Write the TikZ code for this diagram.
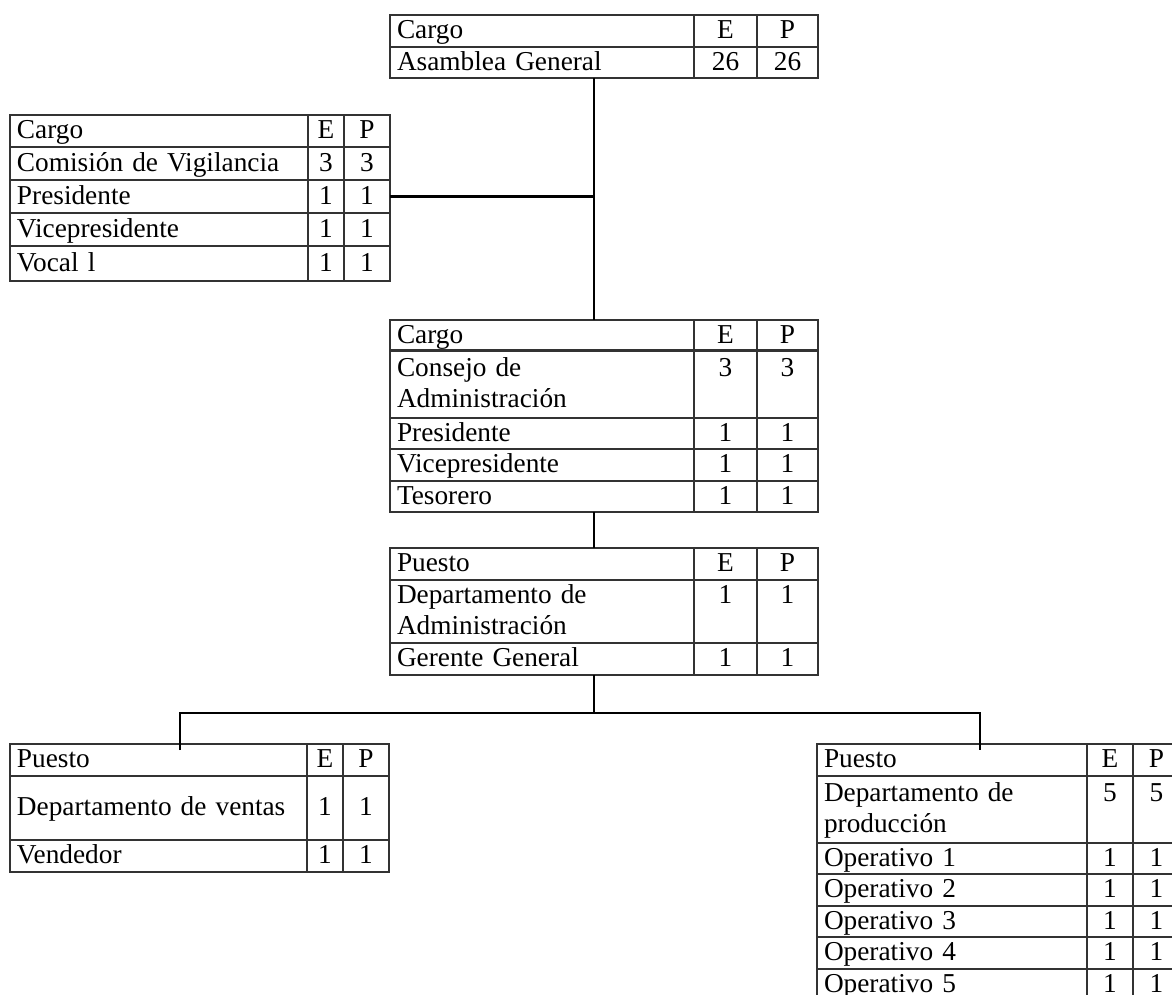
\documentclass[tikz,border=0pt]{standalone}
\usepackage{fontspec}
\setmainfont{Liberation Serif}
\newcommand\cellstrut{\rule[-3.95pt]{0pt}{15.5pt}}
\tikzset{
  cellbase/.style={draw=black!80, line width=0.55pt, rectangle, anchor=north west,
    inner ysep=0pt, outer sep=0pt, font=\fontsize{13.65pt}{15.5pt}\selectfont,
    execute at begin node=\cellstrut, execute at end node=\cellstrut},
  namecell/.style={cellbase, align=left, inner xsep=3.5pt},
  numcell/.style={cellbase, align=center, inner xsep=1pt},
  conn/.style={line width=1.2pt, draw=black}
}
\newcommand\lcell[6]{%
  \pgfmathsetmacro\cw{(#4-#2)*0.5}\pgfmathsetmacro\ch{(#5-#3)*0.5}\pgfmathsetmacro\tw{(#4-#2)*0.5-7}%
  \node[namecell,minimum width=\cw pt,minimum height=\ch pt,text width=\tw pt] (#1) at (#2,#3) {#6};}
\newcommand\ncell[6]{%
  \pgfmathsetmacro\cw{(#4-#2)*0.5}\pgfmathsetmacro\ch{(#5-#3)*0.5}\pgfmathsetmacro\tw{(#4-#2)*0.5-2}%
  \node[numcell,minimum width=\cw pt,minimum height=\ch pt,text width=\tw pt] (#1) at (#2,#3) {#6};}
\newcommand\trow[6]{%
  \lcell{#1}{\ca}{#2}{\cb}{#3}{#4}%
  \ncell{#1e}{\cb}{#2}{\cc}{#3}{#5}%
  \ncell{#1p}{\cc}{#2}{\cd}{#3}{#6}}
\begin{document}
\begin{tikzpicture}[x=0.5pt,y=-0.5pt]
\fill[white] (0,0) rectangle (1172,995);
\useasboundingbox (0,0) rectangle (1172,995);
\clip (0,0) rectangle (1172,995);

% top table
\def\ca{390}\def\cb{694}\def\cc{757}\def\cd{818}
\trow{T-h}{15}{47}{Cargo}{E}{P}
\trow{T-r1}{47}{78}{Asamblea General}{26}{26}

% left table
\def\ca{10}\def\cb{308}\def\cc{344}\def\cd{390}
\trow{L-h}{115}{147}{Cargo}{E}{P}
\trow{L-r1}{147}{180}{Comisión de Vigilancia}{3}{3}
\trow{L-r2}{180}{213}{Presidente}{1}{1}
\trow{L-r3}{213}{246}{Vicepresidente}{1}{1}
\trow{L-r4}{246}{281}{Vocal l}{1}{1}

% middle table
\def\ca{390}\def\cb{694}\def\cc{757}\def\cd{818}
\trow{M-h}{320}{350}{Cargo}{E}{P}
\trow{M-r1}{350}{418}{Consejo de\\Administración}{3\\\mbox{}}{3\\\mbox{}}
\trow{M-r2}{418}{449}{Presidente}{1}{1}
\trow{M-r3}{449}{481}{Vicepresidente}{1}{1}
\trow{M-r4}{481}{512}{Tesorero}{1}{1}

% administration table
\trow{P-h}{548}{580}{Puesto}{E}{P}
\trow{P-r1}{580}{643}{Departamento de\\Administración}{1\\\mbox{}}{1\\\mbox{}}
\trow{P-r2}{643}{675}{Gerente General}{1}{1}

% bottom left table
\def\ca{10}\def\cb{307}\def\cc{343}\def\cd{389}
\trow{BL-h}{744}{776}{Puesto}{E}{P}
\trow{BL-r1}{776}{840}{Departamento de ventas}{1}{1}
\trow{BL-r2}{840}{872}{Vendedor}{1}{1}

% bottom right table
\def\ca{817}\def\cb{1087}\def\cc{1133}\def\cd{1180}
\trow{BR-h}{744}{776}{Puesto}{E}{P}
\trow{BR-r1}{776}{843}{Departamento de\\producción}{5\\\mbox{}}{5\\\mbox{}}
\trow{BR-r2}{843}{874}{Operativo 1}{1}{1}
\trow{BR-r3}{874}{906}{Operativo 2}{1}{1}
\trow{BR-r4}{906}{937}{Operativo 3}{1}{1}
\trow{BR-r5}{937}{969}{Operativo 4}{1}{1}
\trow{BR-r6}{969}{1000}{Operativo 5}{1}{1}

% connectors
\coordinate (trunk) at (594,0);
\coordinate (barL) at (180,713);
\coordinate (barR) at (980,713);
\coordinate (dropL) at (180,750);
\coordinate (dropR) at (980,750);
\draw[conn] (T-r1.south -| trunk) -- (M-h.north -| trunk);
\draw[conn] (L-r2p.east) -- (L-r2p.east -| trunk);
\draw[conn] (M-r4.south -| trunk) -- (P-h.north -| trunk);
\draw[conn] (P-r2.south -| trunk) -- (trunk |- barL);
\draw[conn] (dropL) -- (barL) -- (barR) -- (dropR);
\end{tikzpicture}
\end{document}
